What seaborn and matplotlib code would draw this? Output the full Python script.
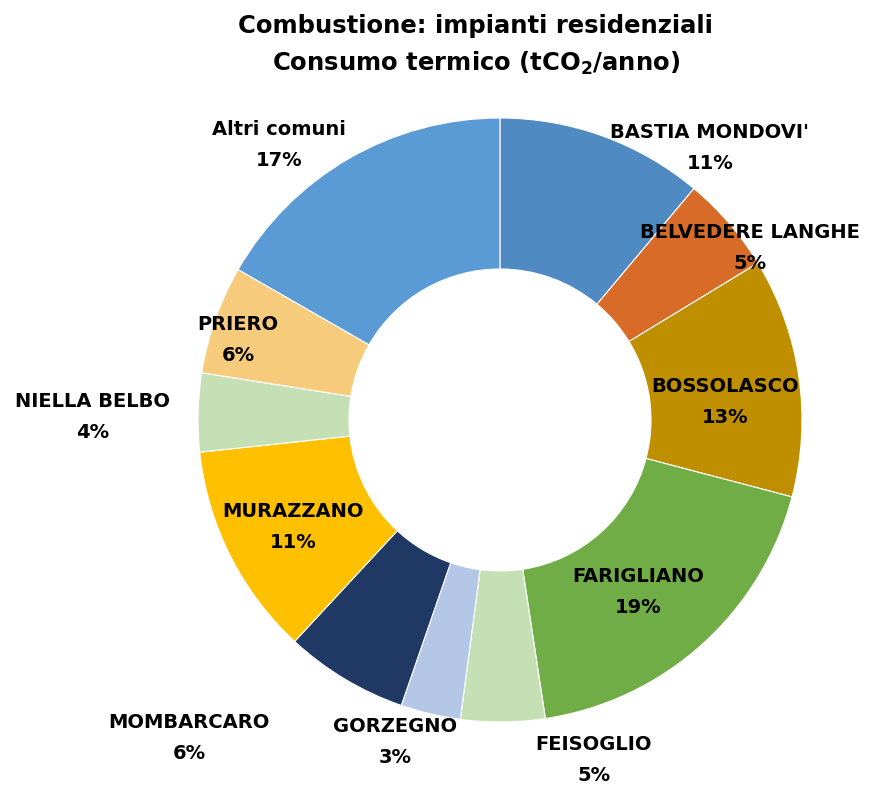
"""
Donut chart: residential combustion, thermal consumption (tCO2/anno) by comune.
"""

import matplotlib
matplotlib.use("Agg")
import matplotlib.pyplot as plt
import seaborn as sns

# ── Data ───────────────────────────────────────────────────────────────────────
COMUNI = [
    "BASTIA MONDOVI'", "BELVEDERE LANGHE", "BOSSOLASCO", "FARIGLIANO",
    "FEISOGLIO", "GORZEGNO", "MOMBARCARO", "MURAZZANO",
    "NIELLA BELBO", "PRIERO", "Altri comuni",
]
QUOTE = [11.1, 5.2, 12.8, 18.5, 4.5, 3.2, 6.6, 11.4, 4.2, 5.8, 16.7]
PCT_LABELS = ["11%", "5%", "13%", "19%", "5%", "3%", "6%", "11%", "4%", "6%", "17%"]

COLOURS = [
    "#4f8ac3", "#d96b28", "#bf8f00", "#70ad47",
    "#c5e0b4", "#b4c7e7", "#203864", "#ffc000",
    "#c5e0b4", "#f6cb7c", "#5b9bd5",
]

# label positions in units of the outer radius (pie centre = 0, 0)
LABEL_POS = [
    (0.695, 0.90), (0.828, 0.57), (0.745, 0.06), (0.457, -0.57),
    (0.311, -1.126), (-0.348, -1.066), (-1.03, -1.053), (-0.685, -0.354),
    (-1.35, 0.01), (-0.868, 0.265), (-0.732, 0.91),
]

# ── Plot ───────────────────────────────────────────────────────────────────────
sns.set_theme(style="white")
plt.rcParams["font.family"] = ["DejaVu Sans"]
plt.rcParams["text.color"] = "black"

fig = plt.figure(figsize=(8.87, 7.87), dpi=100)
ax = fig.add_axes([0, 0, 1, 1])

ax.pie(
    QUOTE, colors=COLOURS, startangle=90, counterclock=False,
    radius=1.0, wedgeprops=dict(width=0.5, edgecolor="white", linewidth=0.8),
)

for name, pct, (x, y) in zip(COMUNI, PCT_LABELS, LABEL_POS):
    ax.text(x, y + 0.052, name, ha="center", va="center",
            fontsize=14, fontweight="bold", color="black")
    ax.text(x, y - 0.052, pct, ha="center", va="center",
            fontsize=14, fontweight="bold", color="black")

ax.text(-0.08, 1.305, "Combustione: impianti residenziali", ha="center", va="center",
        fontsize=17.5, fontweight="bold", color="black")
ax.text(-0.08, 1.18, r"Consumo termico (tCO$_\mathbf{2}$/anno)", ha="center", va="center",
        fontsize=17.5, fontweight="bold", color="black")

R_PX = 302
ax.set_xlim(-500 / R_PX, 387 / R_PX)
ax.set_ylim(-(787 - 420) / R_PX, 420 / R_PX)
ax.set_aspect("equal")
ax.axis("off")

fig.savefig("out.png", dpi=100)
plt.close(fig)
